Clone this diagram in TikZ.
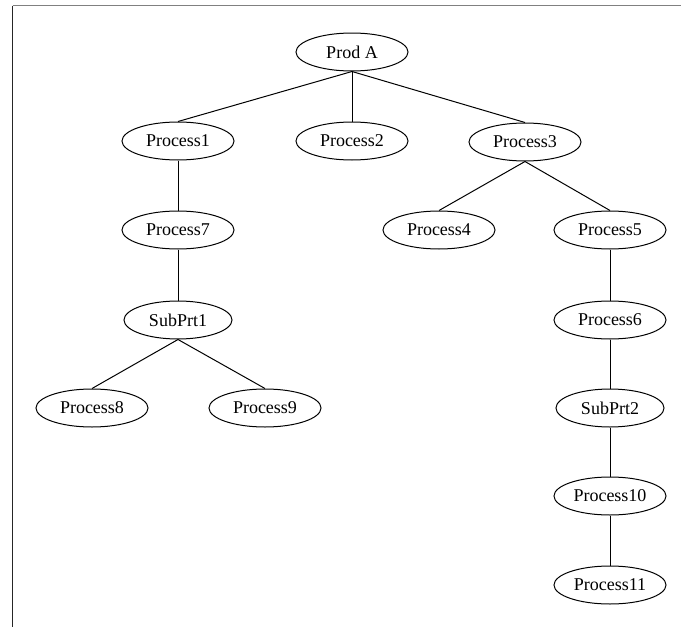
\documentclass[tikz,border=0pt]{standalone}
\usepackage{fontspec}
\setmainfont{Liberation Serif}
\usetikzlibrary{shapes.geometric}
\begin{document}
\begin{tikzpicture}[x=1pt,y=-1pt,
  proc/.style={ellipse, draw, line width=1pt, minimum width=112pt, minimum height=38pt,
    inner sep=0pt, font=\fontsize{18}{20}\selectfont},
  link/.style={line width=1pt},
  frame/.style={line width=1.2pt}]
\useasboundingbox (0,0) rectangle (681,627);
% frame lines along the top and left edges
\draw[frame, gray] (12.5,5.5) -- (681,5.5);
\draw[frame, black!85] (12.5,5.5) -- (12.5,627);

% nodes
\node[proc] (prodA) at (352,52) {Prod A};
\node[proc] (p1) at (178,141) {Process1};
\node[proc] (p2) at (352,141) {Process2};
\node[proc] (p3) at (525,142) {Process3};
\node[proc] (p7) at (178,230) {Process7};
\node[proc] (p4) at (439,230) {Process4};
\node[proc] (p5) at (610,230) {Process5};
\node[proc, minimum width=108pt] (s1) at (178,320) {SubPrt1};
\node[proc] (p6) at (610,320) {Process6};
\node[proc] (p8) at (92,408) {Process8};
\node[proc] (p9) at (265,408) {Process9};
\node[proc, minimum width=108pt] (s2) at (610,408) {SubPrt2};
\node[proc] (p10) at (610,496) {Process10};
\node[proc] (p11) at (610,585) {Process11};

% tree edges, from the bottom of a parent to the top of each child
\draw[link] (prodA.south) -- (p1.north);
\draw[link] (prodA.south) -- (p2.north);
\draw[link] (prodA.south) -- (p3.north);
\draw[link] (p1.south) -- (p7.north);
\draw[link] (p7.south) -- (s1.north);
\draw[link] (s1.south) -- (p8.north);
\draw[link] (s1.south) -- (p9.north);
\draw[link] (p3.south) -- (p4.north);
\draw[link] (p3.south) -- (p5.north);
\draw[link] (p5.south) -- (p6.north);
\draw[link] (p6.south) -- (s2.north);
\draw[link] (s2.south) -- (p10.north);
\draw[link] (p10.south) -- (p11.north);
\end{tikzpicture}
\end{document}
